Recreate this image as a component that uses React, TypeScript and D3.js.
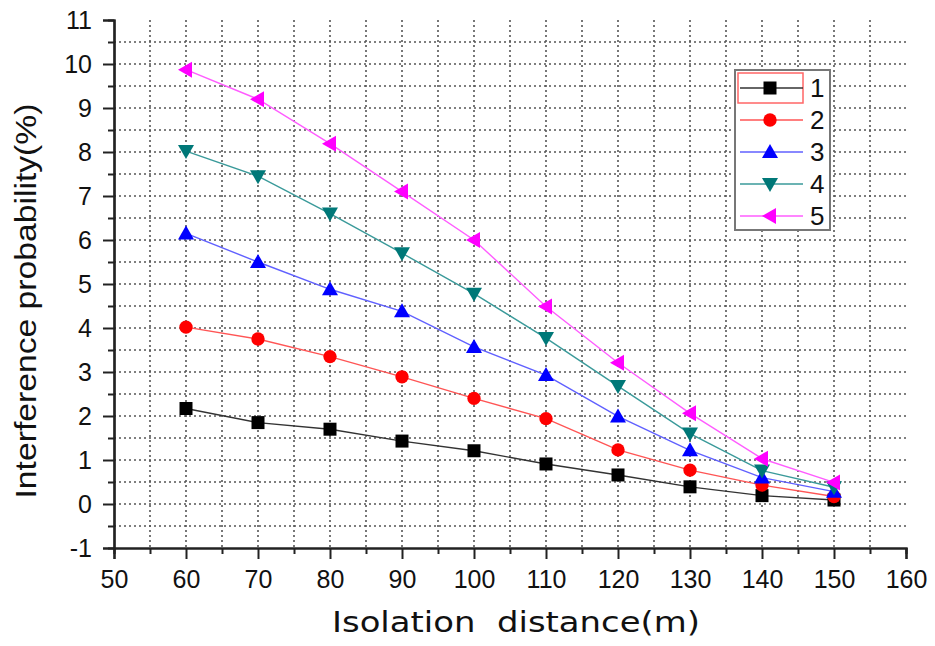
import React, { useEffect, useRef } from 'react';
import * as d3 from 'd3';

// isolation distance (m)
const distances = [60, 70, 80, 90, 100, 110, 120, 130, 140, 150];

const series1 = [2.17, 1.85, 1.7, 1.43, 1.21, 0.91, 0.66, 0.39, 0.19, 0.09];
const series2 = [4.02, 3.75, 3.35, 2.89, 2.4, 1.94, 1.23, 0.77, 0.43, 0.17];
const series3 = [6.15, 5.5, 4.88, 4.38, 3.57, 2.93, 1.99, 1.22, 0.6, 0.28];
const series4 = [8.02, 7.45, 6.6, 5.7, 4.78, 3.77, 2.68, 1.6, 0.76, 0.38];
const series5 = [9.87, 9.2, 8.19, 7.1, 6.0, 4.49, 3.21, 2.06, 1.03, 0.49];

const seriesNames = ['1', '2', '3', '4', '5'];
const lineColors = ['#333333', '#ff5555', '#6060ff', '#3a9a9a', '#ff5cff'];
const markColors = ['#000000', '#ff0000', '#0000ff', '#007878', '#ff00ff'];
const markShapes = ['square', 'circle', 'up', 'down', 'left'];

const xTicks = [50, 60, 70, 80, 90, 100, 110, 120, 130, 140, 150, 160];
const yTicks = [-1, 0, 1, 2, 3, 4, 5, 6, 7, 8, 9, 10, 11];

function markerPath(shape: string) {
  if (shape === 'square') return 'M-6.5,-6.5H6.5V6.5H-6.5Z';
  if (shape === 'circle') return d3.symbol(d3.symbolCircle, 140)() as string;
  if (shape === 'up') return 'M0,-8L8,6H-8Z';
  if (shape === 'down') return 'M0,8L8,-6H-8Z';
  return 'M-8,0L6,-8V8Z';
}

export default function App() {
  const ref = useRef<SVGSVGElement>(null);

  useEffect(() => {
    const svg = d3.select(ref.current);
    svg.selectAll('*').remove();

    const x = d3.scaleLinear().domain([50, 160]).range([114, 906]);
    const y = d3.scaleLinear().domain([-1, 11]).range([548, 20]);

    // dotted grid
    const grid = svg.append('g').attr('stroke', '#555').attr('stroke-width', 1.6)
      .attr('stroke-dasharray', '2,3');
    d3.range(55, 160, 5).forEach(v => {
      grid.append('line').attr('x1', x(v)).attr('x2', x(v)).attr('y1', y(11)).attr('y2', y(-1));
    });
    d3.range(-0.5, 11, 0.5).forEach(v => {
      grid.append('line').attr('x1', x(50)).attr('x2', x(160)).attr('y1', y(v)).attr('y2', y(v));
    });

    const font = 'Liberation Sans, Arial, sans-serif';
    const fmt = (d: any) => String(d);

    // axes
    const xAxis = d3.axisBottom(x).tickValues(xTicks).tickSize(11).tickPadding(11).tickFormat(fmt);
    const xMinor = d3.axisBottom(x).tickValues(d3.range(55, 160, 10)).tickSize(6).tickFormat(() => '');
    const yAxis = d3.axisLeft(y).tickValues(yTicks).tickSize(11).tickPadding(11).tickFormat(fmt);
    const yMinor = d3.axisLeft(y).tickValues(d3.range(-0.5, 11, 1)).tickSize(6).tickFormat(() => '');

    const styleAxis = (g: any) => {
      g.selectAll('.domain').attr('stroke', '#222').attr('stroke-width', 2.2);
      g.selectAll('line').attr('stroke', '#222').attr('stroke-width', 2);
      g.selectAll('text').attr('fill', '#111').style('font-family', font).style('font-size', '25px');
    };
    svg.append('g').attr('transform', `translate(0,${y(-1)})`).call(xMinor).call(styleAxis);
    svg.append('g').attr('transform', `translate(0,${y(-1)})`).call(xAxis).call(styleAxis);
    svg.append('g').attr('transform', `translate(${x(50)},0)`).call(yMinor).call(styleAxis);
    svg.append('g').attr('transform', `translate(${x(50)},0)`).call(yAxis).call(styleAxis);

    // series
    const allSeries = [series1, series2, series3, series4, series5];
    const line = d3.line<number>().x((_, i) => x(distances[i])).y(d => y(d));
    allSeries.forEach((vals, k) => {
      svg.append('path').datum(vals).attr('d', line).attr('fill', 'none')
        .attr('stroke', lineColors[k]).attr('stroke-width', 1.4);
    });
    allSeries.forEach((vals, k) => {
      svg.append('g').selectAll('path').data(vals).join('path')
        .attr('transform', (d, i) => `translate(${x(distances[i])},${y(d)})`)
        .attr('d', markerPath(markShapes[k]))
        .attr('fill', markColors[k]);
    });

    // legend
    const lg = svg.append('g');
    lg.append('rect').attr('x', 735).attr('y', 70).attr('width', 95).attr('height', 160)
      .attr('fill', 'white').attr('stroke', '#777').attr('stroke-width', 2);
    lg.append('rect').attr('x', 738).attr('y', 73).attr('width', 65).attr('height', 30)
      .attr('fill', 'none').attr('stroke', '#ff6666').attr('stroke-width', 1.5);
    seriesNames.forEach((name, k) => {
      const ly = 88 + k * 32;
      lg.append('line').attr('x1', 740).attr('x2', 803).attr('y1', ly).attr('y2', ly)
        .attr('stroke', lineColors[k]).attr('stroke-width', 1.4);
      lg.append('path').attr('transform', `translate(770,${ly})`)
        .attr('d', markerPath(markShapes[k])).attr('fill', markColors[k]);
      lg.append('text').attr('x', 810).attr('y', ly + 9).text(name)
        .style('font-family', font).style('font-size', '26px').attr('fill', '#111');
    });

    // axis titles
    svg.append('text').attr('transform', 'translate(36,301) rotate(-90)')
      .attr('text-anchor', 'middle').style('font-family', font).style('font-size', '30px')
      .attr('textLength', 395).attr('lengthAdjust', 'spacingAndGlyphs')
      .attr('fill', '#111').text('Interference probability(%)');
    svg.append('text').attr('x', 516).attr('y', 632).attr('text-anchor', 'middle')
      .style('font-family', 'DejaVu Sans, sans-serif').style('font-size', '29px')
      .attr('textLength', 368).attr('lengthAdjust', 'spacingAndGlyphs')
      .attr('fill', '#111').attr('xml:space', 'preserve').text('Isolation  distance(m)');
  }, []);

  return (
    <svg ref={ref} width={935} height={646}
      style={{ position: 'absolute', left: 0, top: 0, background: 'white' }} />
  );
}
